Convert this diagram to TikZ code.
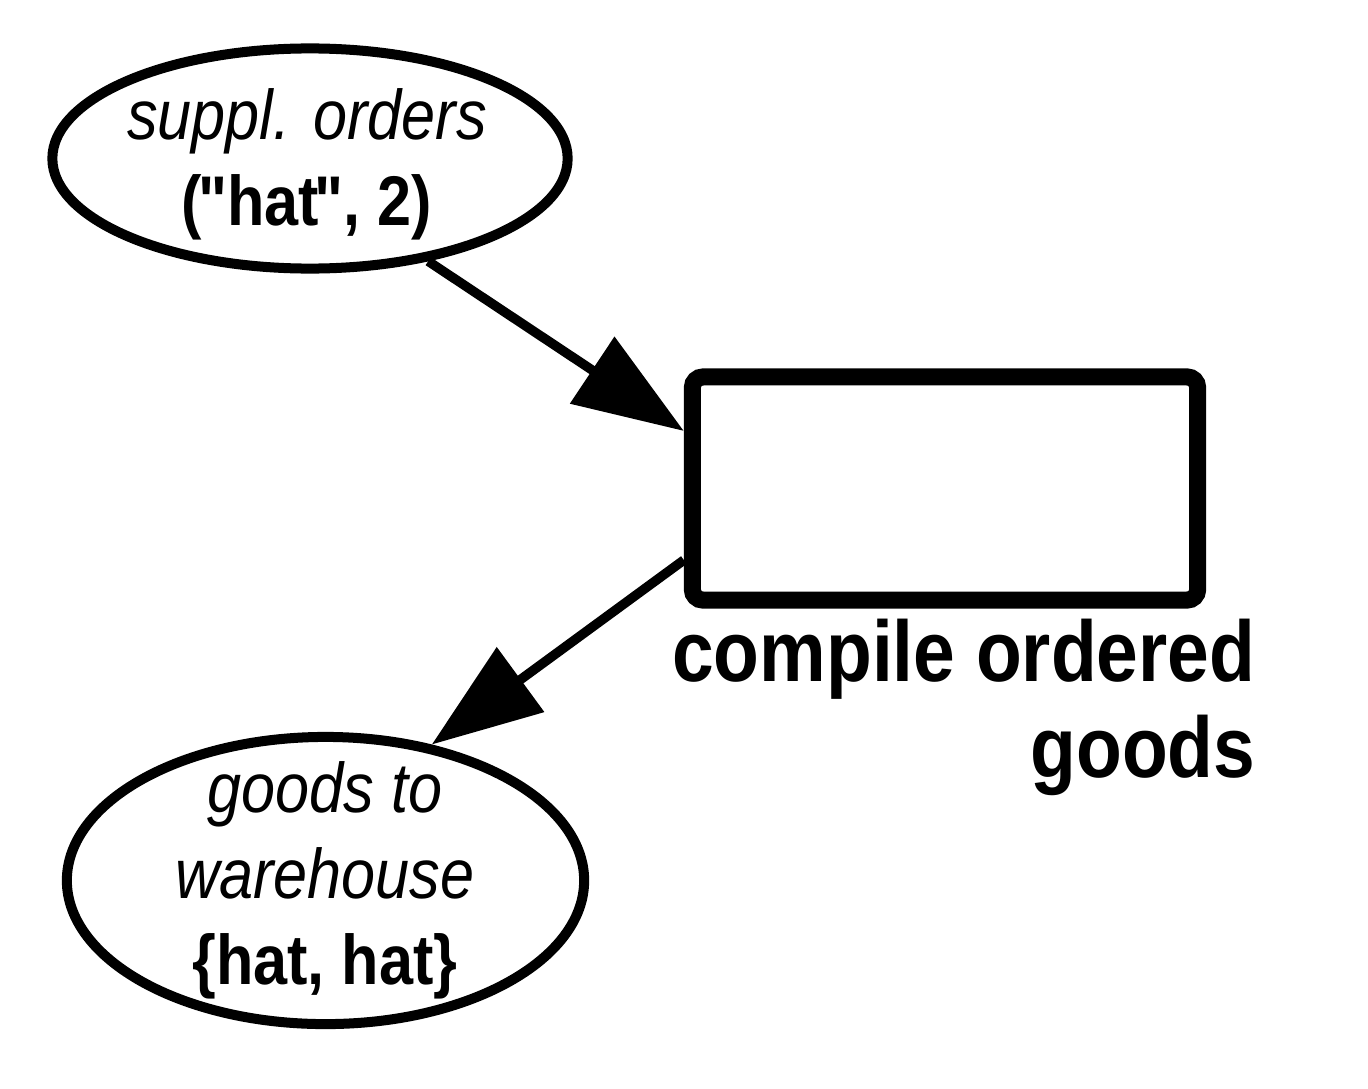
\documentclass[tikz,border=0pt]{standalone}
\usepackage{fontspec}
\setmainfont{Liberation Sans}[FakeStretch=0.87]
\usetikzlibrary{arrows.meta,shapes.geometric}
\newcommand{\qd}{\kern-0.06em\textquotedbl\kern-0.06em}

\begin{document}
\begin{tikzpicture}[
      x=0.01cm, y=-0.01cm,
      font=\fontsize{20}{24.5}\selectfont,
      place/.style={draw, ellipse, line width=0.1cm, inner sep=0pt},
      marking/.style={align=center, inner sep=0pt},
      trans/.style={draw, rounded corners=3pt, line width=0.17cm,
                    minimum width=5.05cm, minimum height=2.23cm},
      arc/.style={-{Triangle[length=1.1cm, width=0.78cm]}, line width=0.095cm},
      lbl/.style={font=\fontsize{24.5}{27.5}\selectfont\bfseries, align=right,
                  inner sep=0pt}
    ]
    \useasboundingbox (0,0) rectangle (1368,1088);

    % --- places ------------------------------------------------------------
    \node[place, minimum width=5.15cm, minimum height=2.2cm] (orders) at (310,158.5) {};
    \node[marking] (orderstxt) at (307,164)
          {\itshape suppl. orders\\\textbf{(\qd hat\qd, 2)}};
    \node[place, minimum width=5.17cm, minimum height=2.87cm] (goods) at (325.5,880.5) {};
    \node[marking] (goodstxt) at (325,880)
          {\itshape goods to\\\itshape warehouse\\\textbf{\{hat, hat\}}};

    % --- transition --------------------------------------------------------
    \node[trans] (compile) at (945,488.5) {};
    \node[lbl, anchor=north east] (compilelbl) at (1256,618)
          {compile ordered\\goods};

    % --- arcs --------------------------------------------------------------
    \draw[arc] (orders.-41) -- ([yshift=0.575cm]compile.west);
    \draw[arc] ([yshift=-0.715cm]compile.west) -- (goods.52);
  \end{tikzpicture}
\end{document}
